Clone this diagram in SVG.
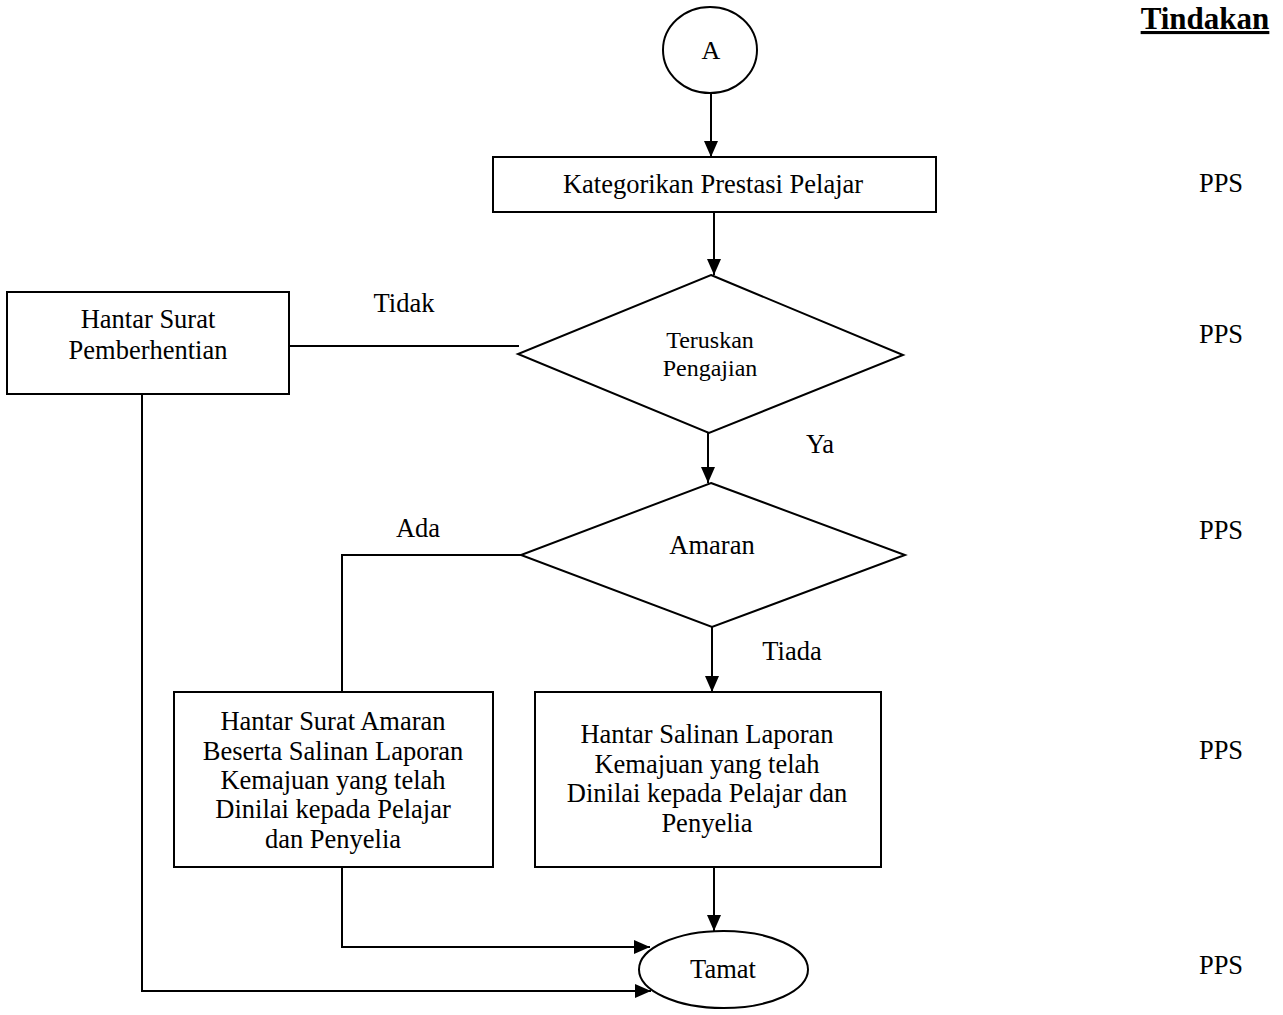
<svg xmlns="http://www.w3.org/2000/svg" width="1283" height="1015" viewBox="0 0 1283 1015">
<style>
  .shape { fill: #fff; stroke: #000; stroke-width: 2; }
  .line { fill: none; stroke: #000; stroke-width: 2; }
  text { font-family: "Liberation Serif", "Times New Roman", serif; font-size: 26.5px; fill: #000; text-anchor: middle; }
  .small { font-size: 24px; }
  .head { font-weight: bold; font-size: 31px; text-decoration: underline; }
</style>
<defs>
  <marker id="arrow" markerUnits="userSpaceOnUse" markerWidth="16" markerHeight="14" refX="16" refY="7" orient="auto">
    <path d="M0,0 L16,7 L0,14 z" fill="#000"/>
  </marker>
</defs>
<rect width="1283" height="1015" fill="#fff"/>

<g id="connectors">
  <line class="line" x1="711" y1="93" x2="711" y2="157" marker-end="url(#arrow)"/>
  <line class="line" x1="714" y1="212" x2="714" y2="275" marker-end="url(#arrow)"/>
  <line class="line" x1="289" y1="346" x2="519" y2="346"/>
  <line class="line" x1="708" y1="433" x2="708" y2="483" marker-end="url(#arrow)"/>
  <polyline class="line" points="521,555 342,555 342,692"/>
  <line class="line" x1="712" y1="627" x2="712" y2="692" marker-end="url(#arrow)"/>
  <line class="line" x1="714" y1="867" x2="714" y2="931" marker-end="url(#arrow)"/>
  <polyline class="line" points="342,867 342,947 650,947" marker-end="url(#arrow)"/>
  <polyline class="line" points="142,394 142,991 651,991" marker-end="url(#arrow)"/>
</g>

<g id="node-a">
  <ellipse class="shape" cx="710" cy="50" rx="47" ry="43"/>
  <text x="711" y="59" style="font-size:26px">A</text>
</g>

<g id="node-kategorikan">
  <rect class="shape" x="493" y="157" width="443" height="55"/>
  <text x="713" y="193">Kategorikan Prestasi Pelajar</text>
</g>

<g id="node-teruskan">
  <polygon class="shape" points="711,275 903,355 709,433 518,354"/>
  <text x="710" y="348" class="small">Teruskan</text>
  <text x="710" y="376" class="small">Pengajian</text>
</g>

<g id="node-pemberhentian">
  <rect class="shape" x="7" y="292" width="282" height="102"/>
  <text x="148" y="328">Hantar Surat</text>
  <text x="148" y="359">Pemberhentian</text>
</g>

<g id="node-amaran">
  <polygon class="shape" points="711,483 905,555 712,627 521,555"/>
  <text x="712" y="554">Amaran</text>
</g>

<g id="node-surat-amaran">
  <rect class="shape" x="174" y="692" width="319" height="175"/>
  <text x="333" y="730">Hantar Surat Amaran</text>
  <text x="333" y="760">Beserta Salinan Laporan</text>
  <text x="333" y="789">Kemajuan yang telah</text>
  <text x="333" y="818">Dinilai kepada Pelajar</text>
  <text x="333" y="848">dan Penyelia</text>
</g>

<g id="node-salinan">
  <rect class="shape" x="535" y="692" width="346" height="175"/>
  <text x="707" y="743">Hantar Salinan Laporan</text>
  <text x="707" y="773">Kemajuan yang telah</text>
  <text x="707" y="802">Dinilai kepada Pelajar dan</text>
  <text x="707" y="832">Penyelia</text>
</g>

<g id="node-tamat">
  <ellipse class="shape" cx="723.5" cy="969.5" rx="84.5" ry="38.5"/>
  <text x="723" y="978">Tamat</text>
</g>

<g id="labels">
  <text x="404" y="312">Tidak</text>
  <text x="820" y="453">Ya</text>
  <text x="418" y="537">Ada</text>
  <text x="792" y="660">Tiada</text>
</g>

<g id="tindakan">
  <text x="1205" y="29" class="head">Tindakan</text>
  <text x="1221" y="192">PPS</text>
  <text x="1221" y="343">PPS</text>
  <text x="1221" y="539">PPS</text>
  <text x="1221" y="759">PPS</text>
  <text x="1221" y="974">PPS</text>
</g>
</svg>
